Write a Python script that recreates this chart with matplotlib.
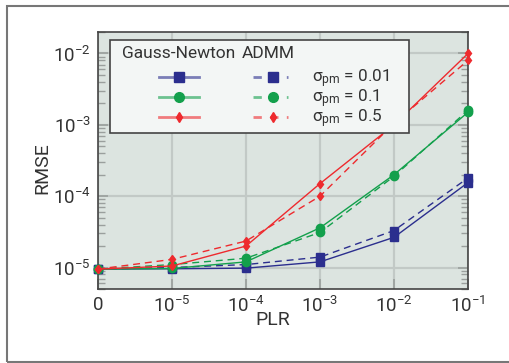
import matplotlib
matplotlib.use("Agg")
import matplotlib.pyplot as plt
from matplotlib.lines import Line2D
from matplotlib.patches import Rectangle
import numpy as np

FONT = 'Roboto'
plt.rcParams['font.family'] = [FONT, 'DejaVu Sans']
plt.rcParams['mathtext.fontset'] = 'custom'
plt.rcParams['mathtext.rm'] = FONT
plt.rcParams['mathtext.it'] = FONT
plt.rcParams['mathtext.sf'] = FONT

# PLR levels (categorical positions on the x axis)
plr_labels = ['0', r'$10^{-5}$', r'$10^{-4}$', r'$10^{-3}$', r'$10^{-2}$', r'$10^{-1}$']

# RMSE, Gauss-Newton solver
gn_001 = [9.5e-6, 9.6e-6, 9.8e-6, 1.2e-5, 2.65e-5, 1.55e-4]
gn_01 = [9.5e-6, 9.7e-6, 1.2e-5, 3.6e-5, 2.0e-4, 1.5e-3]
gn_05 = [9.5e-6, 1.05e-5, 2.0e-5, 1.5e-4, 1.0e-3, 1.0e-2]

# RMSE, ADMM solver
admm_001 = [9.5e-6, 1.0e-5, 1.1e-5, 1.4e-5, 3.3e-5, 1.8e-4]
admm_01 = [9.5e-6, 1.1e-5, 1.35e-5, 3.1e-5, 1.9e-4, 1.6e-3]
admm_05 = [9.5e-6, 1.3e-5, 2.35e-5, 1.0e-4, 1.05e-3, 8.0e-3]

sigma_labels = [r'σ$_{\mathrm{pm}}$ = 0.01', r'σ$_{\mathrm{pm}}$ = 0.1',
                r'σ$_{\mathrm{pm}}$ = 0.5']

colors = ['#2b2e8e', '#13a04c', '#ee2a2e']
markers = ['s', 'o', 'd']
msizes = [6.0, 6.0, 4.5]
dash = (0, (5, 3.5))

fig = plt.figure(figsize=(5.10, 3.63), dpi=100)
ax = fig.add_axes([98 / 510, 1 - 289 / 363, 370 / 510, 257 / 363])
ax.set_facecolor('#dce4e0')

x = np.arange(len(plr_labels))
gn_series = [gn_001, gn_01, gn_05]
admm_series = [admm_001, admm_01, admm_05]

for i in range(3):
    ax.plot(x, gn_series[i], color=colors[i], lw=1.0, marker=markers[i],
            ms=msizes[i], clip_on=False, zorder=3)
    ax.plot(x, admm_series[i], color=colors[i], lw=1.0, ls=dash,
            marker=markers[i], ms=msizes[i], clip_on=False, zorder=3)

ax.set_yscale('log')
ax.set_ylim(5e-6, 2e-2)
ax.set_xlim(0, 5)
ax.set_xticks(x)
ax.set_xticklabels(plr_labels)
ax.set_yticks([1e-5, 1e-4, 1e-3, 1e-2])
ax.yaxis.set_minor_locator(matplotlib.ticker.LogLocator(base=10, subs=np.arange(2, 10)))
ax.yaxis.set_minor_formatter(matplotlib.ticker.NullFormatter())

ax.grid(True, which='major', color='#c2c9c6', lw=1.6, zorder=0)
ax.set_axisbelow(True)
for s in ax.spines.values():
    s.set_color('#444444')
    s.set_linewidth(1.2)

ax.tick_params(which='both', direction='in', color='#9a9f9d', left=True, right=True,
               top=False, bottom=True, labelcolor='#333333', labelsize=13.5)
ax.tick_params(which='major', length=7, width=1.2, pad=5)
ax.tick_params(which='minor', length=5, width=1.0)

ax.set_xlabel('PLR', fontsize=14, color='#333333')
ax.xaxis.set_label_coords(0.473, -0.085)
ax.set_ylabel('RMSE', fontsize=14, color='#333333')
ax.yaxis.set_label_coords(-0.125, 0.47)

# legend table: header row, one handle per solver, sigma labels
leg_box = Rectangle((0.032, 0.607), 0.809, 0.362, transform=ax.transAxes,
                    facecolor='#f3f6f5', edgecolor='#444444', lw=1.2, zorder=5)
ax.add_patch(leg_box)
ax.text(0.065, 0.918, 'Gauss-Newton', transform=ax.transAxes, ha='left', va='center',
        fontsize=12.5, color='#333333', zorder=6)
ax.text(0.389, 0.918, 'ADMM', transform=ax.transAxes, ha='left', va='center',
        fontsize=12.5, color='#333333', zorder=6)
rows = [0.825, 0.747, 0.669]
for i in range(3):
    yy = rows[i]
    ax.add_line(Line2D([0.165, 0.273], [yy, yy], transform=ax.transAxes, color=colors[i],
                       lw=2.0, alpha=0.6, zorder=6))
    ax.add_line(Line2D([0.219], [yy], transform=ax.transAxes, color=colors[i], lw=0,
                       marker=markers[i], ms=msizes[i] + 1, zorder=7))
    ax.add_line(Line2D([0.419, 0.514], [yy, yy], transform=ax.transAxes, color=colors[i],
                       lw=2.0, alpha=0.6, ls=(0, (3, 3)), zorder=6))
    ax.add_line(Line2D([0.473], [yy], transform=ax.transAxes, color=colors[i], lw=0,
                       marker=markers[i], ms=msizes[i] + 1, zorder=7))
    ax.text(0.578, yy - 0.006, sigma_labels[i], transform=ax.transAxes, ha='left',
            va='center', fontsize=12.3, color='#333333', zorder=6)

# outer frame
fig.patches.append(Rectangle((7 / 510, 1 / 363), 1.2, 356 / 363, transform=fig.transFigure,
                             fill=False, edgecolor='#777777', lw=1.5))

fig.savefig('out.png', dpi=100)
